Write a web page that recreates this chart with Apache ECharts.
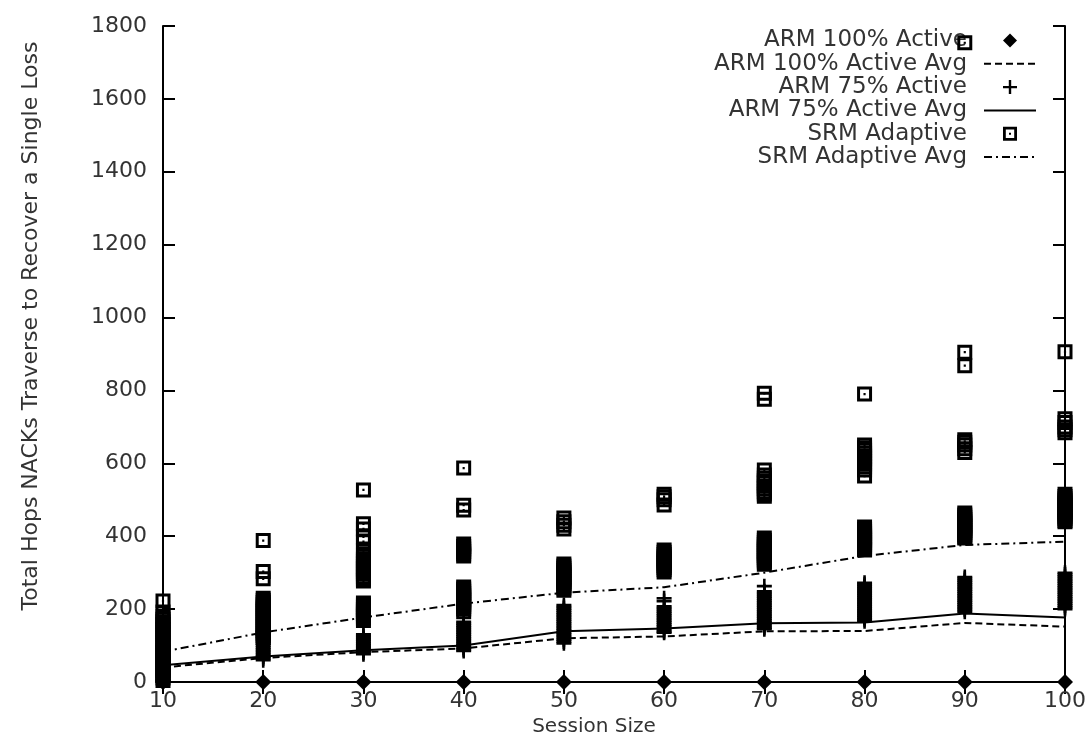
<!DOCTYPE html>
<html>
<head>
<meta charset="utf-8">
<script src="https://cdn.jsdelivr.net/npm/echarts@6/dist/echarts.min.js"></script>
<style>
  html, body { margin: 0; padding: 0; background: #fff; }
  #chart { width: 1089px; height: 742px; }
</style>
</head>
<body>
<div id="chart"></div>
<script>
// Session sizes on the x axis
const sessionSizes = [10, 20, 30, 40, 50, 60, 70, 80, 90, 100];

// Per-run samples, one list per session size
const arm100Active = [[0], [0], [0], [0], [0], [0], [0], [0], [0], [0]];

const arm75Active = [
  [100, 95, 90, 85, 80, 75, 70, 65, 60, 55, 50, 45, 40, 35, 30, 25, 20, 15, 10, 5, 2],
  [140, 135, 130, 125, 120, 115, 110, 105, 100, 95, 90, 85, 80, 75, 70, 65, 60],
  [131, 126, 121, 116, 111, 106, 101, 96, 91, 86, 81, 76],
  [165, 160, 155, 150, 145, 140, 135, 130, 125, 120, 115, 110, 105, 100, 95, 90, 85],
  [211, 206, 201, 196, 191, 186, 181, 176, 171, 166, 161, 156, 151, 146, 141, 136, 131, 126, 121, 116, 111, 106],
  [230, 222, 208, 203, 198, 193, 188, 183, 178, 173, 168, 163, 158, 153, 148, 143, 138, 135],
  [263, 249, 244, 239, 234, 229, 224, 219, 214, 209, 204, 199, 194, 189, 184, 179, 174, 169, 164, 159, 154, 149, 145],
  [272, 267, 262, 257, 252, 247, 242, 237, 232, 227, 222, 217, 212, 207, 202, 197, 192, 187, 182, 177, 172, 167],
  [288, 283, 278, 273, 268, 263, 258, 253, 248, 243, 238, 233, 228, 223, 218, 213, 208, 203, 198, 193],
  [300, 295, 290, 285, 280, 275, 270, 265, 260, 255, 250, 245, 240, 235, 230, 225, 220, 215, 210, 205, 200]
];

const srmAdaptive = [
  [222, 192, 180, 172, 165, 158, 151, 144, 137, 130, 123, 116, 109, 102, 95, 88, 81, 74, 67, 60, 53, 46, 39, 32, 25, 18, 11, 4],
  [388, 303, 283, 230, 224, 218, 212, 206, 200, 194, 188, 182, 176, 170, 164, 158, 152, 146, 140, 134, 128, 122],
  [527, 434, 420, 398, 385, 360, 345, 338, 331, 324, 317, 310, 303, 296, 289, 282, 277,
   217, 211, 205, 199, 193, 187, 181, 175, 169],
  [587, 485, 472, 379, 372, 365, 358, 351, 346,
   261, 255, 249, 243, 237, 231, 225, 219, 213, 207, 200, 193],
  [450, 440, 430, 420, 324, 318, 312, 306, 300, 294, 288, 282, 276, 270, 264, 258, 252],
  [515, 508, 500, 486, 362, 356, 350, 344, 338, 332, 326, 320, 314, 308, 302],
  [792, 776, 582, 568, 560, 552, 546, 538, 530, 522, 516, 510,
   395, 389, 383, 377, 371, 365, 359, 353, 347, 341, 335, 329, 323],
  [790, 650, 643, 636, 628, 620, 612, 605, 598, 590, 582, 565,
   425, 419, 413, 407, 401, 395, 389, 383, 377, 371, 365, 362],
  [1754, 905, 868, 665, 658, 650, 640, 630,
   464, 458, 452, 446, 440, 434, 428, 422, 416, 410, 404, 398, 395],
  [906, 722, 712, 700, 692, 684,
   515, 509, 503, 497, 491, 485, 479, 473, 467, 461, 455, 449, 443, 440]
];

// Averages per session size
const arm100Avg = [40, 66, 82, 92, 120, 125, 139, 140, 162, 152];
const arm75Avg  = [46, 70, 87, 100, 139, 147, 161, 163, 188, 177];
const srmAvg    = [83, 136, 177, 215, 245, 260, 300, 346, 376, 385];

// Axis ranges and tick steps
const xTicks = { min: 10, max: 100, step: 10 };
const yTicks = { min: 0, max: 1800, step: 200 };

const legendNames = ['ARM 100% Active', 'ARM 100% Active Avg', 'ARM 75% Active',
                     'ARM 75% Active Avg', 'SRM Adaptive', 'SRM Adaptive Avg'];

const FONT = 'DejaVu Sans';
const TEXT = '#333';

function flatten(groups) {
  const out = [];
  groups.forEach((vals, i) => vals.forEach(v => out.push([sessionSizes[i], v])));
  return out;
}
function pairs(vals) {
  return vals.map((v, i) => [sessionSizes[i], v]);
}

// Marker shapes: filled diamond, plus sign, hollow box with centre dot
const SYM_DIAMOND = 'path://M7,0L14,7L7,14L0,7Z';
const SYM_PLUS = 'path://M5.8,0H8.2V5.8H14V8.2H8.2V14H5.8V8.2H0V5.8H5.8Z';
const SYM_SQUARE = 'path://M0,0H14V14H0ZM2.8,2.8V11.2H11.2V2.8ZM6,6H8V8H6Z';
const MARK = 15;

const axisCommon = {
  axisLine: { show: true, lineStyle: { color: '#000', width: 2 } },
  axisTick: { show: true, inside: true, length: 12, lineStyle: { color: '#000', width: 2 } },
  splitLine: { show: false }
};
const plain = v => String(v);

const chart = echarts.init(document.getElementById('chart'));
chart.setOption({
  backgroundColor: '#fff',
  animation: false,
  textStyle: { fontFamily: FONT },
  grid: { left: 163, right: 24, top: 26, bottom: 60 },
  legend: {
    orient: 'vertical',
    right: 52,
    top: 29,
    padding: 0,
    align: 'right',
    itemWidth: 52,
    itemHeight: 14,
    itemGap: 0.3,
    textStyle: { fontFamily: FONT, fontSize: 23, color: TEXT, padding: [0, 12, 0, 0] },
    data: legendNames.map(n => n.endsWith('Avg') ? { name: n, itemStyle: { opacity: 0 } } : { name: n })
  },
  xAxis: [
    Object.assign({
      type: 'value', min: xTicks.min, max: xTicks.max, interval: xTicks.step,
      name: 'Session Size', nameLocation: 'middle', nameGap: 30,
      nameTextStyle: { fontFamily: FONT, fontSize: 20, color: TEXT, padding: [0, 40, 0, 0] },
      axisLabel: { margin: 8, fontFamily: FONT, fontSize: 22, color: TEXT, formatter: plain }
    }, axisCommon),
    Object.assign({
      type: 'value', position: 'top', min: xTicks.min, max: xTicks.max, interval: xTicks.step,
      axisLabel: { show: false }
    }, axisCommon)
  ],
  yAxis: [
    Object.assign({
      type: 'value', min: yTicks.min, max: yTicks.max, interval: yTicks.step,
      name: 'Total Hops NACKs Traverse to Recover a Single Loss', nameLocation: 'middle', nameGap: 121,
      nameTextStyle: { fontFamily: FONT, fontSize: 22, color: TEXT, padding: [0, 0, 0, 56] },
      axisLabel: { margin: 16, fontFamily: FONT, fontSize: 22, color: TEXT, formatter: plain }
    }, axisCommon),
    Object.assign({
      type: 'value', position: 'right', min: yTicks.min, max: yTicks.max, interval: yTicks.step,
      axisLabel: { show: false }
    }, axisCommon)
  ],
  series: [
    {
      name: legendNames[0], type: 'scatter', clip: false,
      symbol: SYM_DIAMOND, symbolSize: [16, 16],
      itemStyle: { color: '#000', opacity: 1 },
      data: flatten(arm100Active), z: 5
    },
    {
      name: legendNames[1], type: 'line', symbol: 'none',
      lineStyle: { color: '#000', width: 2, type: [7, 4] },
      itemStyle: { color: '#000' },
      data: pairs(arm100Avg), z: 4
    },
    {
      name: legendNames[2], type: 'scatter', clip: false,
      symbol: SYM_PLUS, symbolSize: [MARK, MARK],
      itemStyle: { color: '#000', opacity: 1 },
      data: flatten(arm75Active), z: 5
    },
    {
      name: legendNames[3], type: 'line', symbol: 'none',
      lineStyle: { color: '#000', width: 2, type: 'solid' },
      itemStyle: { color: '#000' },
      data: pairs(arm75Avg), z: 4
    },
    {
      name: legendNames[4], type: 'scatter', clip: false,
      symbol: SYM_SQUARE, symbolSize: [MARK, MARK],
      itemStyle: { color: '#000', opacity: 1 },
      data: flatten(srmAdaptive), z: 5
    },
    {
      name: legendNames[5], type: 'line', symbol: 'none',
      lineStyle: { color: '#000', width: 2, type: [8, 4, 2, 4] },
      itemStyle: { color: '#000' },
      data: pairs(srmAvg), z: 4
    }
  ]
});
</script>
</body>
</html>
